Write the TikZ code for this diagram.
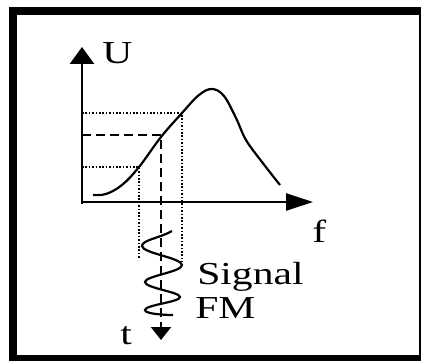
\documentclass[tikz,border=0pt]{standalone}
\usepackage{fontspec}
\setmainfont{Liberation Serif}
\usetikzlibrary{arrows.meta}

\begin{document}
\begin{tikzpicture}[x=1pt,y=-1pt,
    lbl/.style={font=\fontsize{32}{34}\selectfont,xscale=1.3,inner sep=0pt,anchor=base west},
    dotline/.style={line width=2.2pt,dash pattern=on 1.6pt off 1.8pt},
    dashline/.style={line width=2.4pt,dash pattern=on 9pt off 5pt}]
    \useasboundingbox (0,0) rectangle (421,361);
    \clip (0,0) rectangle (421,361);
    \draw[line width=8pt] (13,11) rectangle (423,359);
    % axes
    \coordinate (O) at (82,202);
    \draw[line width=2.8pt,-{Triangle[width=24pt,length=17pt]}] (82,204) -- (82,47);
    \draw[line width=2.8pt,-{Triangle[width=17pt,length=27pt]}] (O) -- (313,202);
    % characteristic
    \coordinate (p1) at (139,167);
    \coordinate (p2) at (161,137);
    \coordinate (p3) at (182,113);
    \draw[line width=2.2pt] plot[smooth,tension=.6] coordinates {(93,195) (106,194) (122,185) (p1) (p2) (p3) (199,95) (212,89) (224,96) (236,118) (246,140) (262,162) (280,185)};
    % working points
    \draw[dotline] (82,113) -- (p3) -- (182,262);
    \draw[dotline] (82,167) -- (p1) -- (139,258);
    \draw[dashline] (82,135) -- (161,135) -- (161,326);
    \draw[line width=2.2pt,-{Triangle[width=20pt,length=13pt]}] (161,326) -- (161,340);
    % fm signal
    \draw[line width=2.2pt] (172,231) .. controls (160,238) and (142,240) .. (142,246)
      .. controls (142,253) and (182,258) .. (182,265)
      .. controls (182,272) and (145,276) .. (145,282)
      .. controls (145,288) and (180,292) .. (180,297)
      .. controls (180,302) and (145,305) .. (145,310)
      .. controls (145,314) and (165,315) .. (173,315);
    % labels
    \node[lbl] (u) at (102,64) {U};
    \node[lbl] (f) at (312,242) {f};
    \node[lbl] (t) at (120,344) {t};
    \node[lbl] (sig) at (197,284) {Signal};
    \node[lbl] (fm) at (195,318) {FM};
  \end{tikzpicture}
\end{document}
